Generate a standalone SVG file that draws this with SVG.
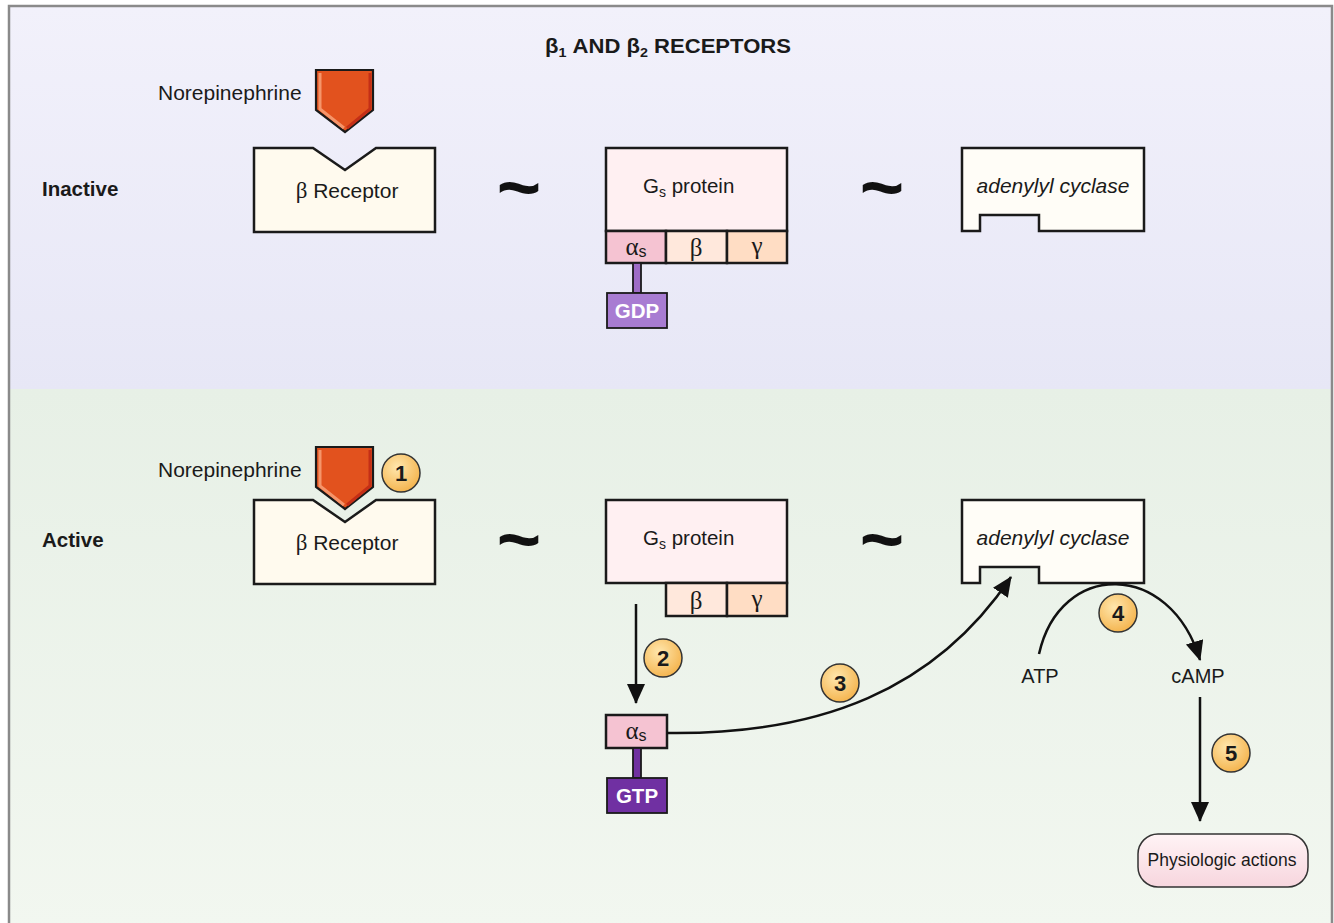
<svg xmlns="http://www.w3.org/2000/svg" width="1334" height="923" viewBox="0 0 1334 923">
<defs>
<linearGradient id="gTop" x1="0" y1="0" x2="0" y2="1"><stop offset="0" stop-color="#F2F1FB"/><stop offset="1" stop-color="#E7E7F6"/></linearGradient>
<linearGradient id="gBot" x1="0" y1="0" x2="0" y2="1"><stop offset="0" stop-color="#E7F0E6"/><stop offset="1" stop-color="#F2F7F0"/></linearGradient>
<radialGradient id="gBadge" cx="0.4" cy="0.35" r="0.7"><stop offset="0" stop-color="#FFE7AE"/><stop offset="1" stop-color="#F4B24A"/></radialGradient>
<linearGradient id="gPhys" x1="0" y1="0" x2="0" y2="1"><stop offset="0" stop-color="#FFF3F5"/><stop offset="1" stop-color="#F7D6DE"/></linearGradient>
<marker id="arr" markerUnits="userSpaceOnUse" markerWidth="22" markerHeight="20" refX="19" refY="9" orient="auto"><path d="M0,0 L20,9 L0,18 z" fill="#111"/></marker>
<style>
.t{font-family:"Liberation Sans",Arial,sans-serif;fill:#1a1a1a}
.it{font-style:italic}
.b{font-weight:bold}
.g{font-family:"Liberation Serif","Times New Roman",serif;fill:#1a1a1a}
.box{stroke:#1a1a1a;stroke-width:2.5}
.con{fill:none;stroke:#111;stroke-width:2.5}
.badge circle{fill:url(#gBadge);stroke:#333;stroke-width:1.5}
.badge text{font-family:"Liberation Sans",Arial,sans-serif;font-weight:bold;font-size:22px;fill:#1a1a1a;text-anchor:middle}
.tilde{font-family:"Liberation Sans",Arial,sans-serif;font-weight:bold;font-size:76px;fill:#111;text-anchor:middle}
</style>
</defs>
<rect x="9" y="6" width="1324" height="384" fill="url(#gTop)"/>
<rect x="9" y="389" width="1324" height="540" fill="url(#gBot)"/>
<rect x="9" y="6" width="1323" height="930" fill="none" stroke="#8a8a8a" stroke-width="2.5"/>

<text class="t b" x="545" y="53" font-size="20" textLength="246" lengthAdjust="spacingAndGlyphs">β<tspan font-size="13" dy="4">1</tspan><tspan dy="-4">  AND β</tspan><tspan font-size="13" dy="4">2</tspan><tspan dy="-4"> RECEPTORS</tspan></text>

<text class="t b" x="42" y="196" font-size="20.5">Inactive</text>
<text class="t b" x="42" y="547" font-size="20.5">Active</text>

<!-- Inactive row -->
<g id="norepi-inactive">
<text class="t" x="158" y="100" font-size="21">Norepinephrine</text>
<polygon points="316,70 373,70 373,110 345,132 316,110" fill="#E2521E" stroke="#1a1a1a" stroke-width="2.2"/>
<polyline points="320,73 320,109 344,128" fill="none" stroke="#F5956A" stroke-width="3"/>
<polyline points="370,73 370,109 347,128" fill="none" stroke="#C42E16" stroke-width="3"/>
</g>
<g id="receptor-inactive">
<polygon class="box" points="254,148 313,148 345,170 376,148 435,148 435,232 254,232" fill="#FFFAEE"/>
<text class="t" x="347" y="198" font-size="21" text-anchor="middle"><tspan class="g" font-size="23">β</tspan> Receptor</text>
</g>
<text class="tilde" x="519" y="213">~</text>
<g id="gs-inactive">
<rect class="box" x="606" y="148" width="181" height="83" fill="#FFF0F2"/>
<rect class="box" x="606" y="231" width="60" height="32" fill="#F5C3D2"/>
<rect class="box" x="666" y="231" width="61" height="32" fill="#FFE8DC"/>
<rect class="box" x="727" y="231" width="60" height="32" fill="#FFDDC4"/>
<text class="t" x="643" y="193" font-size="20.5">G<tspan font-size="14" dy="4">s</tspan><tspan dy="-4"> protein</tspan></text>
<text x="636" y="255" text-anchor="middle"><tspan class="g" font-size="25">α</tspan><tspan class="t" font-size="16" dy="2">s</tspan></text>
<text class="g" x="696" y="256" font-size="25" text-anchor="middle">β</text>
<text class="g" x="757" y="254" font-size="25" text-anchor="middle">γ</text>
</g>
<g id="gdp">
<rect x="633" y="263" width="8" height="30" fill="#9E6CC6" stroke="#1a1a1a" stroke-width="1.8"/>
<rect x="607" y="293" width="60" height="35" fill="#A87CD2" stroke="#1a1a1a" stroke-width="1.8"/>
<text class="t b" x="637" y="318" font-size="20.5" text-anchor="middle" style="fill:#fff">GDP</text>
</g>
<text class="tilde" x="882" y="213">~</text>
<g id="ac-inactive">
<polygon class="box" points="962,148 1144,148 1144,231 1039,231 1039,215 980,215 980,231 962,231" fill="#FFFDF7"/>
<text class="t it" x="1053" y="193" font-size="21" text-anchor="middle">adenylyl cyclase</text>
</g>

<!-- Active row -->
<g id="norepi-active">
<text class="t" x="158" y="477" font-size="21">Norepinephrine</text>
<polygon points="316,447 373,447 373,487 345,509 316,487" fill="#E2521E" stroke="#1a1a1a" stroke-width="2.2"/>
<polyline points="320,450 320,486 344,505" fill="none" stroke="#F5956A" stroke-width="3"/>
<polyline points="370,450 370,486 347,505" fill="none" stroke="#C42E16" stroke-width="3"/>
</g>
<g id="receptor-active">
<polygon class="box" points="254,500 313,500 345,522 376,500 435,500 435,584 254,584" fill="#FFFAEE"/>
<text class="t" x="347" y="550" font-size="21" text-anchor="middle"><tspan class="g" font-size="23">β</tspan> Receptor</text>
</g>
<text class="tilde" x="519" y="565">~</text>
<g id="gs-active">
<rect class="box" x="606" y="500" width="181" height="83" fill="#FFF0F2"/>
<rect class="box" x="666" y="583" width="61" height="33" fill="#FFE8DC"/>
<rect class="box" x="727" y="583" width="60" height="33" fill="#FFDDC4"/>
<text class="t" x="643" y="545" font-size="20.5">G<tspan font-size="14" dy="4">s</tspan><tspan dy="-4"> protein</tspan></text>
<text class="g" x="696" y="609" font-size="25" text-anchor="middle">β</text>
<text class="g" x="757" y="607" font-size="25" text-anchor="middle">γ</text>
</g>
<g id="alpha-gtp">
<rect class="box" x="606" y="715" width="61" height="33" fill="#F5C3D2"/>
<text x="636" y="739" text-anchor="middle"><tspan class="g" font-size="25">α</tspan><tspan class="t" font-size="16" dy="2">s</tspan></text>
<rect x="633" y="748" width="8" height="30" fill="#7030A0" stroke="#1a1a1a" stroke-width="1.8"/>
<rect x="607" y="778" width="60" height="35" fill="#7030A2" stroke="#1a1a1a" stroke-width="1.8"/>
<text class="t b" x="637" y="803" font-size="20.5" text-anchor="middle" style="fill:#fff">GTP</text>
</g>
<text class="tilde" x="882" y="565">~</text>
<g id="ac-active">
<polygon class="box" points="962,500 1144,500 1144,583 1039,583 1039,567 980,567 980,583 962,583" fill="#FFFDF7"/>
<text class="t it" x="1053" y="545" font-size="21" text-anchor="middle">adenylyl cyclase</text>
</g>
<g id="atp"><text class="t" x="1040" y="683" font-size="20" text-anchor="middle">ATP</text></g>
<g id="camp"><text class="t" x="1198" y="683" font-size="20" text-anchor="middle">cAMP</text></g>
<g id="physio">
<rect x="1138" y="834" width="170" height="53" rx="20" fill="url(#gPhys)" stroke="#333" stroke-width="1.5"/>
<text class="t" x="1222" y="866" font-size="17.5" text-anchor="middle">Physiologic actions</text>
</g>

<g id="connectors">
<line class="con" x1="636" y1="604" x2="636" y2="703" marker-end="url(#arr)"/>
<path class="con" d="M667,733 C820,735 935,690 1011,577" marker-end="url(#arr)"/>
<path class="con" d="M1039,654 C1060,560 1170,560 1200,660" marker-end="url(#arr)"/>
<line class="con" x1="1200" y1="697" x2="1200" y2="821" marker-end="url(#arr)"/>
</g>

<g id="badges">
<g class="badge"><circle cx="401" cy="473" r="19"/><text x="401" y="481">1</text></g>
<g class="badge"><circle cx="663" cy="658" r="19"/><text x="663" y="666">2</text></g>
<g class="badge"><circle cx="840" cy="683" r="19"/><text x="840" y="691">3</text></g>
<g class="badge"><circle cx="1118" cy="613" r="19"/><text x="1118" y="621">4</text></g>
<g class="badge"><circle cx="1231" cy="753" r="19"/><text x="1231" y="761">5</text></g>
</g>
</svg>
